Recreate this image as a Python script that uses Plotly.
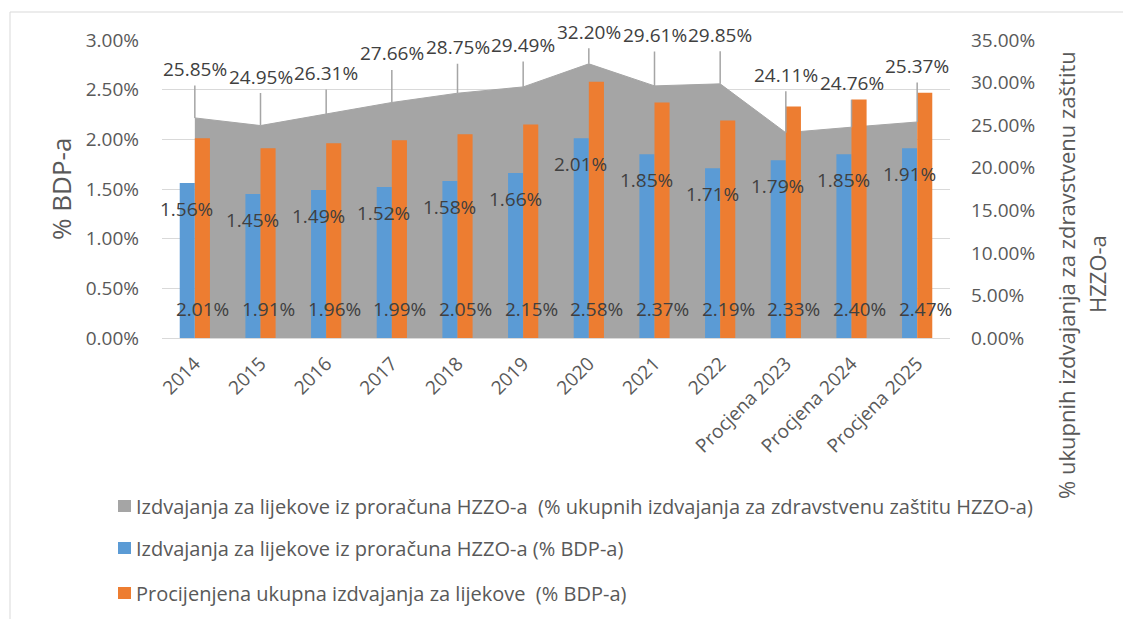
import plotly.graph_objects as go

categories = ["2014", "2015", "2016", "2017", "2018", "2019", "2020", "2021", "2022",
              "Procjena 2023", "Procjena 2024", "Procjena 2025"]
share_hzzo = [25.85, 24.95, 26.31, 27.66, 28.75, 29.49, 32.20, 29.61, 29.85, 24.11, 24.76, 25.37]
hzzo_gdp = [1.56, 1.45, 1.49, 1.52, 1.58, 1.66, 2.01, 1.85, 1.71, 1.79, 1.85, 1.91]
total_gdp = [2.01, 1.91, 1.96, 1.99, 2.05, 2.15, 2.58, 2.37, 2.19, 2.33, 2.40, 2.47]

series_names = [
    "Izdvajanja za lijekove iz proračuna HZZO-a  (% ukupnih izdvajanja za zdravstvenu zaštitu HZZO-a)",
    "Izdvajanja za lijekove iz proračuna HZZO-a (% BDP-a)",
    "Procijenjena ukupna izdvajanja za lijekove  (% BDP-a)",
]
left_title = "% BDP-a"
right_title_lines = ["% ukupnih izdvajanja za zdravstvenu zaštitu", "HZZO-a"]

# label leader offsets (pixels) for the grey area labels
gray_label_dy = [-49, -49, -41, -49, -46, -42, -32, -51, -49, -58, -44, -56]

GRAY = "#A5A5A5"
BLUE = "#5B9BD5"
ORANGE = "#ED7D31"
FONT = "Open Sans"
LBL = "#404040"
TICK = "#595959"

OFF = 8  # page body margin
W, H = 1131 - OFF, 619 - OFF
# plot area in screenshot pixels
SL, SR, ST, SB = 162, 950, 40, 338
L, R, T, B = SL - OFF, SR - OFF, ST - OFF, SB - OFF
pw, ph = SR - SL, SB - ST


def px(x):  # screenshot x -> paper
    return (x - SL) / pw


def py(y):  # screenshot y -> paper
    return (SB - y) / ph


fig = go.Figure()

fig.add_trace(go.Scatter(
    x=categories, y=share_hzzo, name=series_names[0], mode="lines",
    line=dict(color=GRAY, width=1), fill="tozeroy", fillcolor=GRAY,
    xaxis="x", yaxis="y", showlegend=False, hoverinfo="skip"))
fig.add_trace(go.Bar(
    x=categories, y=hzzo_gdp, name=series_names[1], marker=dict(color=BLUE, line_width=0),
    xaxis="x", yaxis="y2", showlegend=False))
fig.add_trace(go.Bar(
    x=categories, y=total_gdp, name=series_names[2], marker=dict(color=ORANGE, line_width=0),
    xaxis="x", yaxis="y2", showlegend=False))

annotations = []
for i, (v, dy) in enumerate(zip(share_hzzo, gray_label_dy)):
    annotations.append(dict(
        x=i, y=v, xref="x", yref="y", text=f"{v:.2f}%", showarrow=True,
        arrowhead=0, arrowwidth=1.5, arrowcolor=GRAY, ax=0, ay=dy, borderpad=3,
        font=dict(family=FONT, size=19, color=LBL)))
for i, v in enumerate(hzzo_gdp):
    annotations.append(dict(
        x=i, y=v, xref="x", yref="y2", text=f"{v:.2f}%", showarrow=False,
        xshift=-8, yshift=-26, font=dict(family=FONT, size=19, color=LBL)))
for i, v in enumerate(total_gdp):
    annotations.append(dict(
        x=i, y=0, xref="x", yref="y2", text=f"{v:.2f}%", showarrow=False,
        xshift=8, yshift=29, font=dict(family=FONT, size=19, color=LBL)))

# axis titles
annotations.append(dict(
    x=px(61), y=0.5, xref="paper", yref="paper", text=left_title, textangle=-90,
    showarrow=False, xanchor="center", yanchor="middle",
    font=dict(family=FONT, size=26, color=TICK)))
annotations.append(dict(
    x=px(1066), y=py(275), xref="paper", yref="paper", text=right_title_lines[0], textangle=-90,
    showarrow=False, xanchor="center", yanchor="middle",
    font=dict(family=FONT, size=22, color=TICK)))
annotations.append(dict(
    x=px(1097), y=py(274), xref="paper", yref="paper", text=right_title_lines[1], textangle=-90,
    showarrow=False, xanchor="center", yanchor="middle",
    font=dict(family=FONT, size=22, color=TICK)))

# manual legend
shapes = []
legend_rows = [506, 548, 593]
for name, col, ry in zip(series_names, [GRAY, BLUE, ORANGE], legend_rows):
    shapes.append(dict(type="rect", xref="paper", yref="paper",
                       x0=px(118), x1=px(131), y0=py(ry + 6), y1=py(ry - 6),
                       fillcolor=col, line=dict(width=0)))
    annotations.append(dict(
        x=px(134), y=py(ry), xref="paper", yref="paper", text=name, showarrow=False,
        xanchor="left", yanchor="middle", font=dict(family=FONT, size=20, color=TICK)))

# chart frame
shapes.append(dict(type="rect", xref="paper", yref="paper",
                   x0=px(10), x1=px(1150), y0=py(660), y1=py(12),
                   line=dict(color="#D9D9D9", width=1), fillcolor="rgba(0,0,0,0)", layer="below"))

fig.update_layout(
    width=W, height=H,
    margin=dict(l=L, r=W - R, t=T, b=H - B, pad=0, autoexpand=False),
    paper_bgcolor="white", plot_bgcolor="white",
    barmode="group", bargap=0.54, bargroupgap=0,
    font=dict(family=FONT, size=19, color=TICK),
    xaxis=dict(type="category", range=[-0.5, 11.5], showgrid=False, tickangle=-45,
               automargin=False,
               showline=True, linecolor="#D9D9D9", linewidth=1, ticks="",
               ticklabelstandoff=6, tickfont=dict(family=FONT, size=19, color=TICK)),
    yaxis=dict(side="right", range=[0, 35], dtick=5, tickformat=".2f", ticksuffix="%",
               automargin=False,
               showgrid=False, zeroline=False, showline=False, ticks="",
               ticklabelstandoff=20, tickfont=dict(family=FONT, size=19, color=TICK)),
    yaxis2=dict(side="left", overlaying="y", range=[0, 3], dtick=0.5, tickformat=".2f",
                automargin=False,
                ticksuffix="%", showgrid=True, gridcolor="#D9D9D9", gridwidth=1,
                zeroline=False, showline=False, ticks="",
                ticklabelstandoff=22, tickfont=dict(family=FONT, size=19, color=TICK)),
    annotations=annotations, shapes=shapes,
)

fig.write_html("out.html")
